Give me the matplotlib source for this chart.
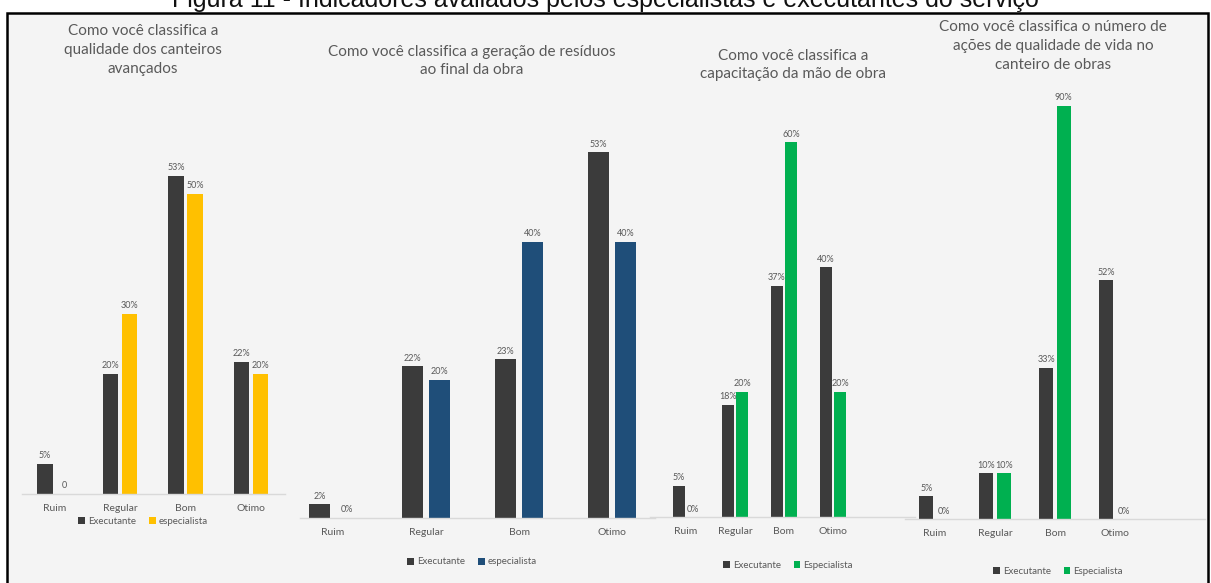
import matplotlib
matplotlib.use("Agg")
import matplotlib.pyplot as plt
from matplotlib.patches import Rectangle

# Survey answers (% of respondents)
categories = ["Ruim", "Regular", "Bom", "Otimo"]

exec_qualidade = [5, 20, 53, 22]
esp_qualidade = [0, 30, 50, 20]

exec_residuos = [2, 22, 23, 53]
esp_residuos = [0, 20, 40, 40]

exec_capacitacao = [5, 18, 37, 40]
esp_capacitacao = [0, 20, 60, 20]

exec_vida = [5, 10, 33, 52]
esp_vida = [0, 10, 90, 0]

titles = [
    "Como você classifica a\nqualidade dos canteiros\navançados",
    "Como você classifica a geração de resíduos\nao final da obra",
    "Como você classifica a\ncapacitação da mão de obra",
    "Como você classifica o número de\nações de qualidade de vida no\ncanteiro de obras",
]
legend_names = [
    ("Executante", "especialista"),
    ("Executante", "especialista"),
    ("Executante", "Especialista"),
    ("Executante", "Especialista"),
]
caption = "Figura 11 - Indicadores avaliados pelos especialistas e executantes do serviço"

EXEC_COLOR = "#3b3b3b"
SPEC_COLORS = ["#ffc000", "#1f4e79", "#00b050", "#00b050"]
TEXT_COLOR = "#595959"

W, H = 1211, 583
plt.rcParams["font.family"] = ["Lato", "DejaVu Sans"]

fig = plt.figure(figsize=(W / 100, H / 100), dpi=100)
fig.patch.set_facecolor("white")


def fx(px):
    return px / W


def fy(py):
    return 1 - py / H


# grey panel with black frame (bottom is cut off in the source)
fig.patches.append(Rectangle((fx(7), fy(590)), fx(1201), (590 - 13) / H,
                             transform=fig.transFigure, facecolor="#f4f4f4",
                             edgecolor="black", linewidth=1.8, zorder=-5))
# caption sits above the frame and is cut by the top edge, as in the source
fig.text(0.5, fy(7), caption, ha="center", va="baseline", fontsize=18,
         family=["Liberation Sans", "DejaVu Sans"], color="#111111", zorder=-6)

# per panel layout in pixels: baseline span x0..x1, baseline y, first category
# centre, category spacing, px per percent, title centre, legend centre
layout = [
    dict(x0=22, x1=285, base=494, c0=54.5, s=65.5, ppp=6.0, tx=143, ty=50, lx=143, ly=521, zero="0"),
    dict(x0=300, x1=655, base=518, c0=333, s=93, ppp=6.9, tx=472, ty=61, lx=472, ly=562, zero="0%"),
    dict(x0=650, x1=915, base=517, c0=686, s=49, ppp=6.25, tx=793, ty=65, lx=788, ly=565, zero="0%"),
    dict(x0=905, x1=1205, base=519, c0=935, s=60, ppp=4.59, tx=1053, ty=46, lx=1058, ly=571, zero="0%"),
]
series = [
    (exec_qualidade, esp_qualidade),
    (exec_residuos, esp_residuos),
    (exec_capacitacao, esp_capacitacao),
    (exec_vida, esp_vida),
]

bar_w = 0.23
off = 0.145
x = list(range(len(categories)))

for i, (lay, (ex, sp)) in enumerate(zip(layout, series)):
    top = 14
    ax = fig.add_axes([fx(lay["x0"]), fy(lay["base"]), fx(lay["x1"] - lay["x0"]),
                       (lay["base"] - top) / H])
    ax.set_facecolor("none")
    ax.set_ylim(0, (lay["base"] - top) / lay["ppp"])
    ax.set_xlim((lay["x0"] - lay["c0"]) / lay["s"], (lay["x1"] - lay["c0"]) / lay["s"])

    b1 = ax.bar([v - off for v in x], ex, bar_w, color=EXEC_COLOR)
    b2 = ax.bar([v + off for v in x], sp, bar_w, color=SPEC_COLORS[i])

    pad = 8 / lay["ppp"]
    for bars, vals in ((b1, ex), (b2, sp)):
        for rect, v in zip(bars, vals):
            txt = lay["zero"] if v == 0 else f"{v}%"
            ax.text(rect.get_x() + rect.get_width() / 2, v + pad, txt,
                    ha="center", va="center", fontsize=6.5, color=TEXT_COLOR)

    for side in ("top", "right", "left"):
        ax.spines[side].set_visible(False)
    ax.spines["bottom"].set_color("#d9d9d9")
    ax.spines["bottom"].set_linewidth(1)
    ax.set_yticks([])
    ax.set_xticks(x, categories)
    ax.tick_params(axis="x", length=0, pad=7, labelsize=7.5, labelcolor=TEXT_COLOR)

    fig.text(fx(lay["tx"]), fy(lay["ty"]), titles[i], ha="center", va="center",
             fontsize=11, color=TEXT_COLOR, linespacing=1.45)

    fig.legend([b1, b2], legend_names[i], loc="center",
               bbox_to_anchor=(fx(lay["lx"]), fy(lay["ly"])), ncol=2,
               frameon=False, fontsize=7, labelcolor=TEXT_COLOR,
               handlelength=0.7, handleheight=0.7, handletextpad=0.3,
               columnspacing=1.3)

fig.savefig("out.png", dpi=100)
